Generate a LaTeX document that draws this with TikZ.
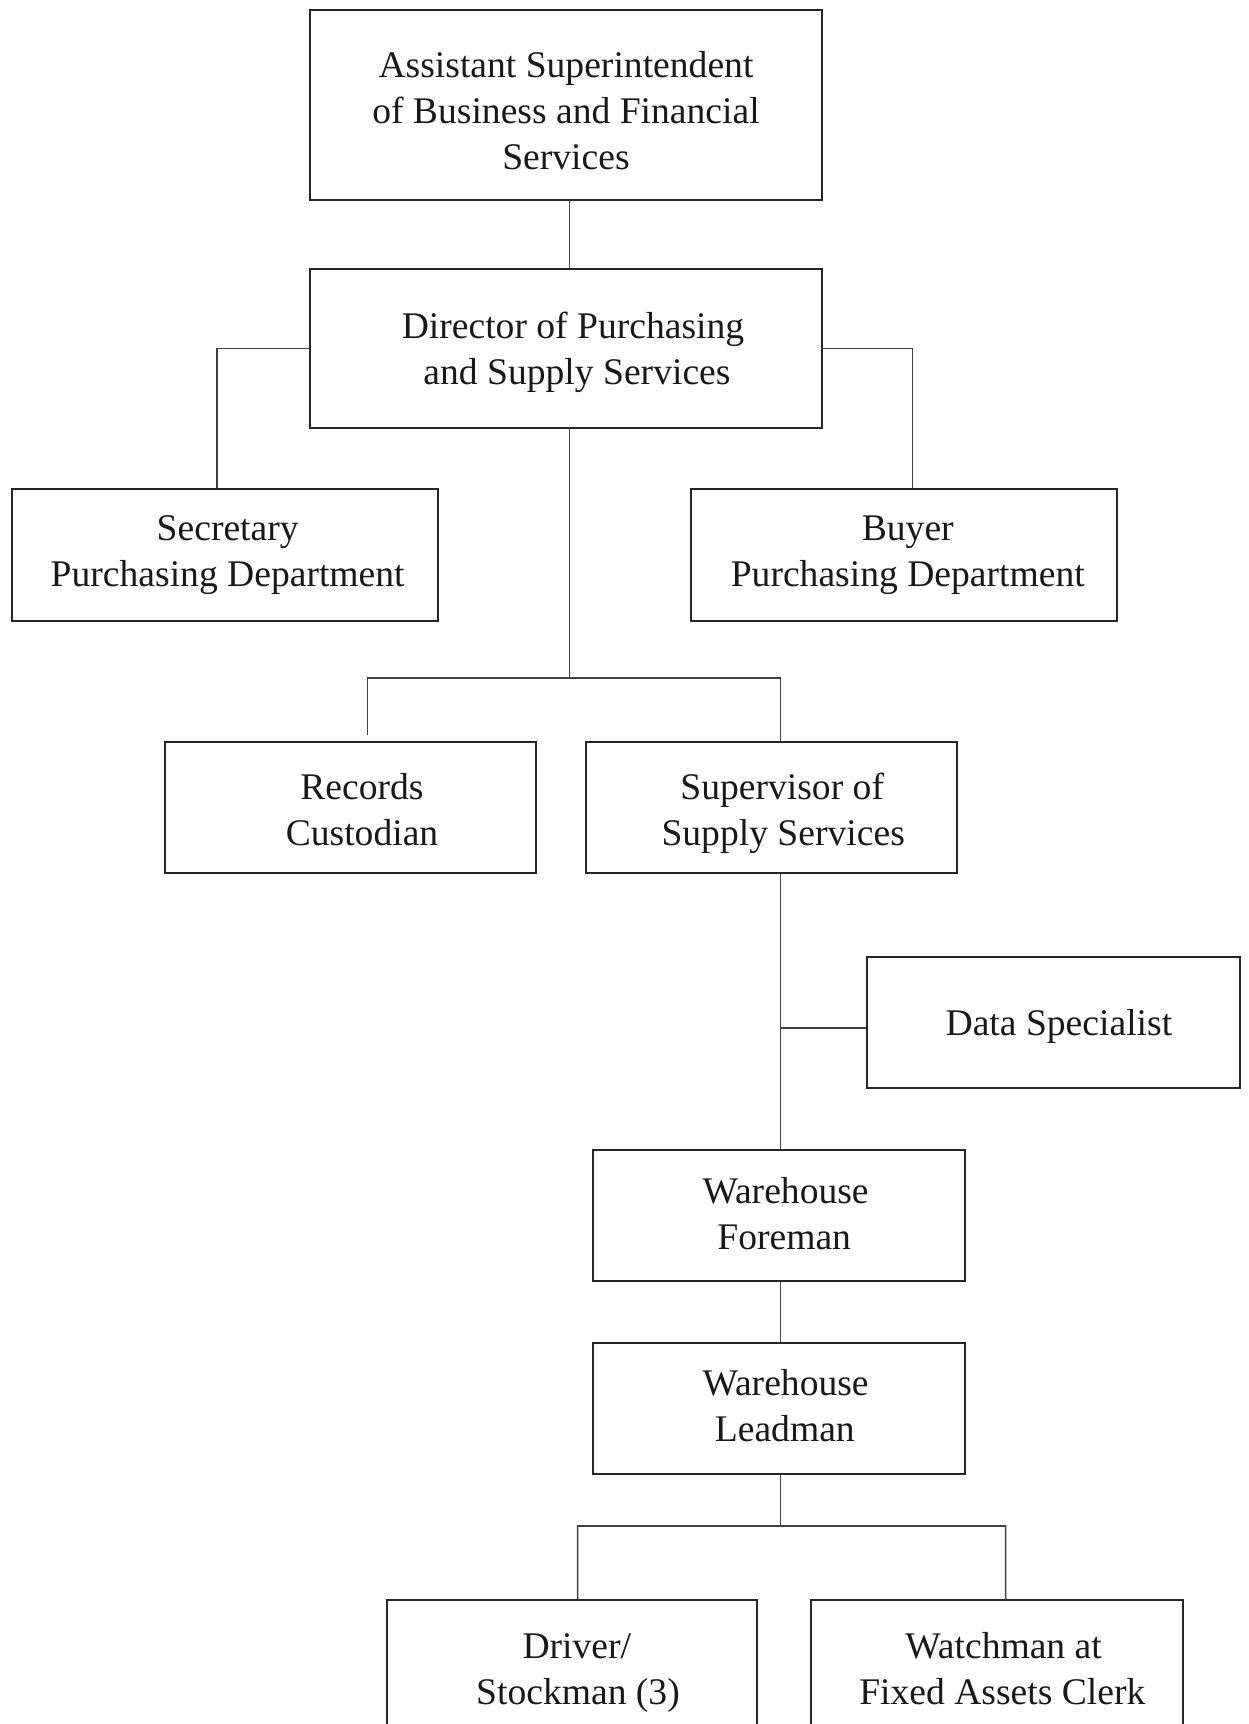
\documentclass[tikz,border=0pt]{standalone}
\usepackage{fontspec}
\setmainfont{Liberation Serif}
% first-line strut (height in pt) and last-line strut, for even vertical placement
\newcommand\up[1]{\rule{0pt}{#1pt}}
\newcommand\dn{\rule[-6pt]{0pt}{0pt}}
% nudge a line to the right by half the given amount
\newcommand\pr[1]{\hspace*{#1pt}}
\begin{document}
\begin{tikzpicture}[x=0.5pt,y=-0.5pt,
  box/.style 2 args={draw=black!85, line width=1pt,
    minimum width=#1*0.5pt, minimum height=#2*0.5pt, inner sep=0pt,
    align=center, text=black!90,
    font=\fontsize{18.8}{23}\selectfont},
  link/.style={draw=black!75, line width=0.8pt}]
\path[use as bounding box, clip] (0,0) rectangle (1248,1724);

% positions
\node[box={511.5}{190}] (top)  at (566,105)     {\up{24}Assistant Superintendent\\of Business and Financial\\Services\dn};
\node[box={511.5}{159}] (dir)  at (566,348.5)   {\up{19}\pr{7}Director of Purchasing\\\pr{11}and Supply Services\dn};
\node[box={425.6}{132}] (sec)  at (224.7,555)   {\up{14}\pr{3}Secretary\\\pr{3}Purchasing Department\dn};
\node[box={426.5}{132}] (buy)  at (903.8,555)   {\up{14}\pr{4}Buyer\\\pr{4}Purchasing Department\dn};
\node[box={371.5}{131}] (rec)  at (350.4,807.5) {\up{21}\pr{11.6}Records\\\pr{11.6}Custodian\dn};
\node[box={370.7}{131}] (sup)  at (771.7,807.5) {\up{21}\pr{10.5}Supervisor of\\\pr{11.5}Supply Services\dn};
\node[box={372.4}{131}] (data) at (1053.3,1022.5){\up{18.5}\pr{5.6}Data Specialist\dn};
\node[box={371.5}{131}] (fore) at (779.2,1215.5){\up{17}\pr{6.4}Warehouse\\\pr{5}Foreman\dn};
\node[box={371.5}{131}] (lead) at (779.2,1408.5){\up{16}\pr{6.4}Warehouse\\\pr{5.6}Leadman\dn};
\node[box={370.8}{131}] (drv)  at (572,1665.5)  {\up{22}\pr{4.8}Driver/\\\pr{6}Stockman (3)\dn};
\node[box={371.5}{131}] (wat)  at (997.2,1665.5){\up{22}\pr{6.4}Watchman at\\\pr{5.2}Fixed Assets Clerk\dn};

% junction points
\coordinate (hubA)   at (569.6,678);
\coordinate (barAL)  at (367.5,678);
\coordinate (barAR)  at (780.4,678);
\coordinate (recend) at (367.5,735);
\coordinate (tap)    at (780.4,1028);
\coordinate (hubB)   at (780.4,1526);
\coordinate (barBL)  at (577.6,1526);
\coordinate (barBR)  at (1005.6,1526);

% connectors
\draw[link] ([xshift=1.8pt]top.south) -- ([xshift=1.8pt]dir.north);
\draw[link] (dir.west) -| ([xshift=-3.75pt]sec.north);
\draw[link] (dir.east) -| ([xshift=4.35pt]buy.north);
\draw[link] ([xshift=1.8pt]dir.south) -- (hubA);
\draw[link] (recend) -- (barAL) -- (barAR) -- ([xshift=4.35pt]sup.north);
\draw[link] ([xshift=4.35pt]sup.south) -- ([xshift=0.6pt]fore.north);
\draw[link] (tap) -- (tap -| data.west);
\draw[link] ([xshift=0.6pt]fore.south) -- ([xshift=0.6pt]lead.north);
\draw[link] ([xshift=0.6pt]lead.south) -- (hubB);
\draw[link] ([xshift=2.8pt]drv.north) -- (barBL) -- (barBR) -- ([xshift=4.2pt]wat.north);
\end{tikzpicture}
\end{document}
